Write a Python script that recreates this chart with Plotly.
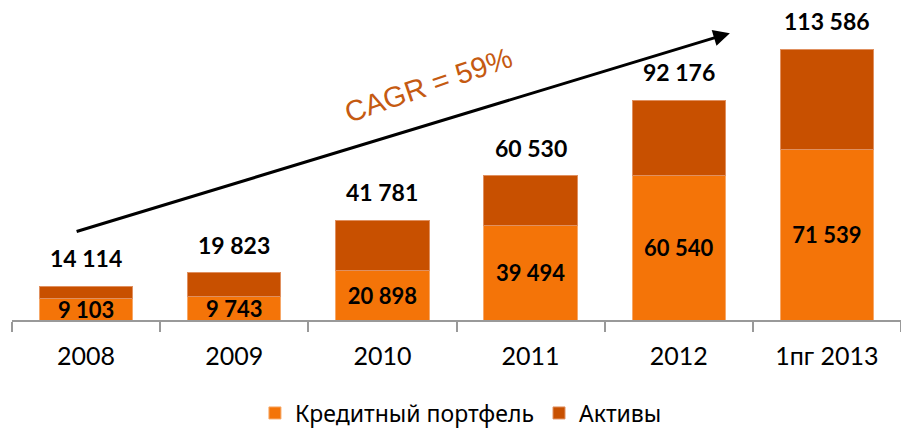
import plotly.graph_objects as go

categories = ["2008", "2009", "2010", "2011", "2012", "1пг 2013"]
portfolio = [9103, 9743, 20898, 39494, 60540, 71539]
totals = [14114, 19823, 41781, 60530, 92176, 113586]
assets_top = [t - p for t, p in zip(totals, portfolio)]
cagr_label = "CAGR = 59%"

def fmt(v):
    return f"{v:,}".replace(",", " ")

font_family = "Lato, 'Noto Sans', sans-serif"
legend_font = "'Noto Sans', sans-serif"
light = "#F47408"
dark = "#C85000"

fig = go.Figure()
fig.add_trace(go.Bar(
    x=categories, y=portfolio, name="Кредитный портфель",
    marker=dict(color=light, line=dict(color="#F7A868", width=1)),
    text=[fmt(v) for v in portfolio], textposition="inside",
    insidetextanchor="middle", textangle=0, constraintext="none",
    textfont=dict(family=font_family, size=22, color="black", weight="bold"),
))
fig.add_trace(go.Bar(
    x=categories, y=assets_top, name="Активы",
    marker=dict(color=dark, line=dict(color="#E09060", width=1)),
    hoverinfo="skip",
))

for i, t in enumerate(totals):
    fig.add_annotation(x=i, y=t, text=fmt(t), showarrow=False,
                       yanchor="bottom", yshift=12,
                       font=dict(family=font_family, size=23, color="black", weight="bold"))

fig.add_annotation(x=4.345, y=120300, ax=-0.074, ay=36900,
                   xref="x", yref="y", axref="x", ayref="y",
                   showarrow=True, arrowhead=2, arrowsize=1.1, arrowwidth=3,
                   arrowcolor="black", text="")
fig.add_annotation(x=2.31, y=98500, xref="x", yref="y", text=cagr_label,
                   showarrow=False, textangle=-19,
                   font=dict(family="Liberation Sans, Arial", size=29, color="#C55A11"))

fig.update_layout(
    barmode="stack", bargap=0.37,
    width=901, height=429,
    margin=dict(l=12, r=0, t=10, b=109, autoexpand=False),
    paper_bgcolor="white", plot_bgcolor="white",
    showlegend=True,
    legend=dict(orientation="h", x=0.505, xanchor="center", y=-0.3, yanchor="middle",
                font=dict(family=legend_font, size=23, color="black"),
                itemwidth=30, traceorder="normal"),
    xaxis=dict(type="category", range=[-0.5, 5.5], autorange=False, automargin=False,
               showline=True, linecolor="#999999", linewidth=2,
               ticks="outside", tickson="boundaries", ticklen=10, tickcolor="#999999", tickwidth=2,
               tickfont=dict(family=font_family, size=25, color="black"),
               ticklabelstandoff=13,
               showgrid=False, tickangle=0),
    yaxis=dict(range=[0, 130000], autorange=False, visible=False, showgrid=False, automargin=False),
)

fig.write_html("out.html", config={"displayModeBar": False},
               post_script="document.body.style.margin='0';")
